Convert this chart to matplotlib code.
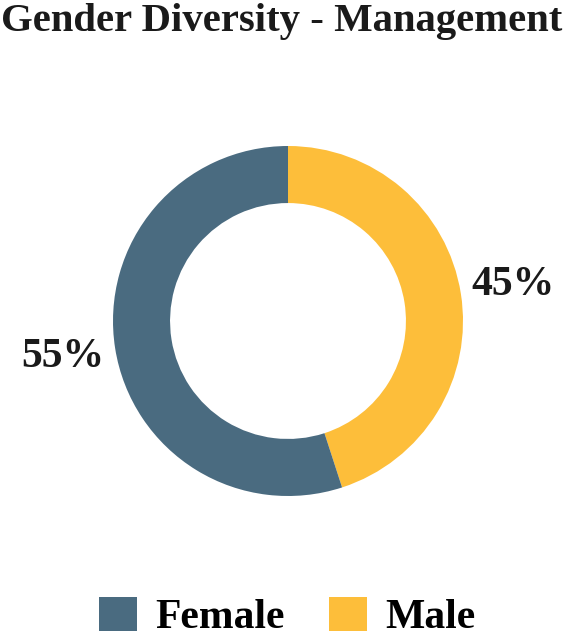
import matplotlib.pyplot as plt
from matplotlib.patches import Patch

title = "Gender Diversity - Management"
categories = ["Male", "Female"]
shares = [45, 55]
pct_labels = ["45%", "55%"]
colors = ["#FDBE3A", "#4A6B80"]

plt.rcParams["font.family"] = ["Liberation Serif", "DejaVu Serif"]
plt.rcParams["font.weight"] = "bold"

fig = plt.figure(figsize=(5.75, 6.43), dpi=100)
ax = fig.add_axes([113 / 575, 147 / 643, 350 / 575, 350 / 643])

wedges, texts = ax.pie(
    shares,
    colors=colors,
    labels=pct_labels,
    labeldistance=1.3,
    startangle=90,
    counterclock=False,
    radius=1,
    wedgeprops=dict(width=0.326, edgecolor="none"),
    textprops=dict(fontsize=30, fontweight="bold", color="#1a1a1a"),
)
for t in texts:
    t.set_horizontalalignment("center")
    t.set_verticalalignment("center")
ax.set_xlim(-1, 1)
ax.set_ylim(-1, 1)
ax.set_aspect("equal")

fig.text(0.49, 1 - 22 / 643, title, ha="center", va="center",
         fontsize=29.3, fontweight="bold", color="#1a1a1a")

handles = [Patch(facecolor=colors[1]), Patch(facecolor=colors[0])]
fig.legend(handles, [categories[1], categories[0]], loc="center",
           bbox_to_anchor=(0.5, 1 - 617 / 643), ncol=2, frameon=False,
           prop=dict(size=30, weight="bold"), handlelength=0.9,
           handleheight=0.9, handletextpad=0.45, columnspacing=1.05)

fig.savefig("out.png", dpi=100)
